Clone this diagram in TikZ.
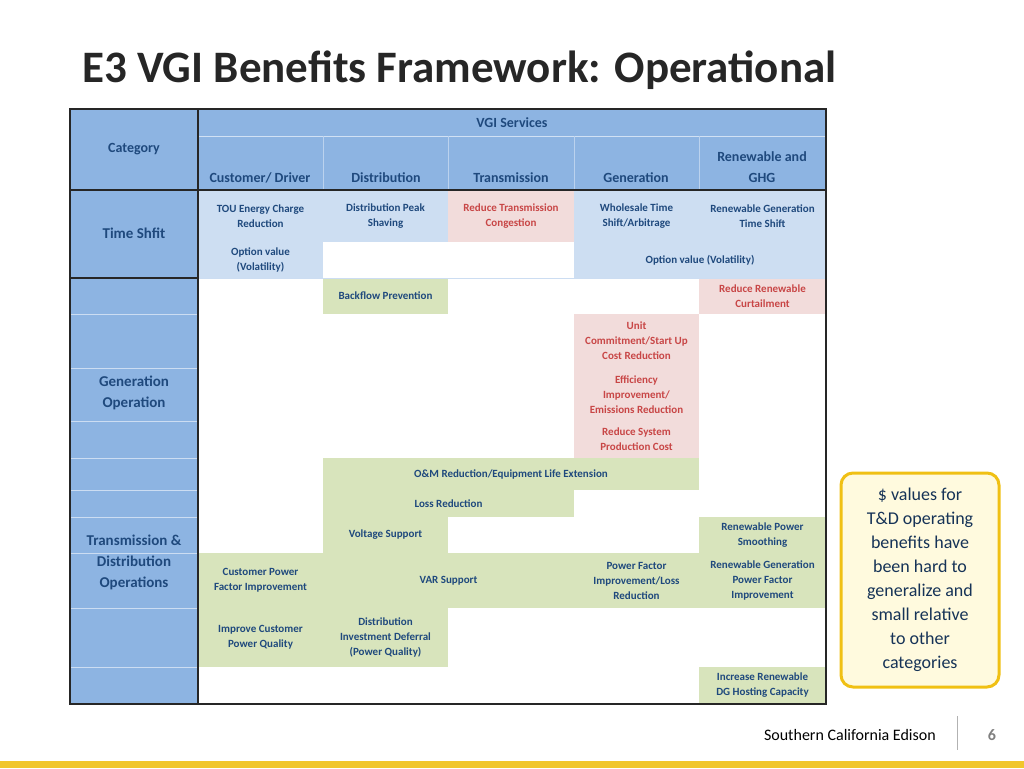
\documentclass[tikz,border=0pt]{standalone}
\usepackage{fontspec}
\setmainfont{Carlito}
\definecolor{hdr}{RGB}{141,180,226}
\definecolor{lb}{RGB}{205,222,242}
\definecolor{pk}{RGB}{242,220,219}
\definecolor{gr}{RGB}{216,228,188}
\definecolor{tx}{RGB}{31,73,125}
\definecolor{rd}{RGB}{200,70,70}
\definecolor{ttl}{RGB}{38,38,38}
\definecolor{yel}{RGB}{240,192,20}
\definecolor{ylt}{RGB}{255,250,222}
\newcommand\mycell[8]{% name x1 y1 x2 y2 fill textcolor text
  \fill[#6] (#2,-#3) rectangle (#4,-#5);
  \node[cell,text=#7] (#1) at ({(#2+#4)/2},{-(#3+#5)/2}) {#8};}
\begin{document}
\begin{tikzpicture}[x=1pt,y=1pt,
  cell/.style={align=center,font=\fontsize{11}{15}\selectfont\bfseries,inner sep=0pt},
  hd/.style={align=center,font=\fontsize{14}{21}\selectfont\bfseries,text=tx,inner sep=0pt},
  cat/.style={align=center,font=\fontsize{15}{21}\selectfont\bfseries,text=tx,inner sep=0pt}]
\useasboundingbox (0,0) rectangle (1024,-768);
\node[anchor=base west,font=\fontsize{45}{50}\selectfont\bfseries,text=ttl,inner sep=0pt] (title) at (82,-82) {E3 VGI Benefits Framework: Operational};
% header
\fill[hdr] (70,-109) rectangle (826,-190);
\fill[hdr] (70,-190) rectangle (198,-704);
\fill[lb] (198,-190) rectangle (826,-278);
\fill[white] (323,-242) rectangle (574,-278);
\draw[white!60!hdr,line width=0.8pt] (198,-136) -- (826,-136);
\foreach \x in {323,448,574,699} \draw[white!40!hdr,line width=0.6pt] (\x,-136) -- (\x,-190);
\node[hd] (vgi) at (512,-123) {VGI Services};
\node[hd] (catg) at (134,-149) {Category};
\node[hd,anchor=base] (h1) at (260,-182) {Customer/ Driver};
\node[hd,anchor=base] (h2) at (386,-182) {Distribution};
\node[hd,anchor=base] (h3) at (511,-182) {Transmission};
\node[hd,anchor=base] (h4) at (636,-182) {Generation};
\node[hd,anchor=base] (h5) at (762,-182) {Renewable and\\GHG};
% cells
\mycell{a1}{323}{190}{448}{242}{lb}{tx}{}
\mycell{c1}{198}{190}{323}{242}{lb}{tx}{TOU Energy Charge\\Reduction}
\mycell{c2}{323}{190}{448}{242}{lb}{tx}{Distribution Peak\\Shaving}
\mycell{c3}{448}{190}{574}{242}{pk}{rd}{Reduce Transmission\\Congestion}
\mycell{c4}{574}{190}{699}{242}{lb}{tx}{Wholesale Time\\Shift/Arbitrage}
\mycell{c5}{699}{190}{826}{242}{lb}{tx}{Renewable Generation\\Time Shift}
\mycell{c6}{198}{242}{323}{278}{lb}{tx}{Option value\\(Volatility)}
\mycell{c7}{574}{242}{826}{278}{lb}{tx}{Option value (Volatility)}
\mycell{g1}{323}{278}{448}{314}{gr}{tx}{Backflow Prevention}
\mycell{p1}{699}{278}{826}{314}{pk}{rd}{Reduce Renewable\\Curtailment}
\mycell{p2}{574}{314}{699}{368}{pk}{rd}{Unit\\Commitment/Start Up\\Cost Reduction}
\mycell{p3}{574}{368}{699}{421}{pk}{rd}{Efficiency\\Improvement/\\Emissions Reduction}
\mycell{p4}{574}{421}{699}{458}{pk}{rd}{Reduce System\\Production Cost}
\mycell{g2}{323}{458}{699}{490}{gr}{tx}{O\&M Reduction/Equipment Life Extension}
\mycell{g3}{323}{490}{574}{517}{gr}{tx}{Loss Reduction}
\mycell{g4}{323}{517}{448}{553}{gr}{tx}{Voltage Support}
\mycell{g5}{699}{517}{826}{553}{gr}{tx}{Renewable Power\\Smoothing}
\mycell{g6}{198}{553}{323}{608}{gr}{tx}{Customer Power\\Factor Improvement}
\mycell{g7}{323}{553}{574}{608}{gr}{tx}{VAR Support}
\mycell{g8}{574}{553}{699}{608}{gr}{tx}{Power Factor\\Improvement/Loss\\Reduction}
\mycell{g9}{699}{553}{826}{608}{gr}{tx}{Renewable Generation\\Power Factor\\Improvement}
\mycell{g10}{198}{608}{323}{667}{gr}{tx}{Improve Customer\\Power Quality}
\mycell{g11}{323}{608}{448}{667}{gr}{tx}{Distribution\\Investment Deferral\\(Power Quality)}
\mycell{g12}{699}{667}{826}{704}{gr}{tx}{Increase Renewable\\DG Hosting Capacity}
% category separators
\foreach \y in {314,368,421,458,490,517,553,608,667}
  \draw[white!55!hdr,line width=0.6pt] (70,-\y) -- (198,-\y);
\draw[white!55!hdr,line width=0.6pt] (198,-278) -- (826,-278);
\node[cat] (ts) at (134,-233) {Time Shfit};
\node[cat] (go) at (134,-393) {Generation\\Operation};
\node[cat] (td) at (134,-562) {Transmission \&\\Distribution\\Operations};
% thick lines
\draw[black!85,line width=1.3pt] (70,-109) rectangle (826,-704);
\draw[black!85,line width=1.3pt] (198,-109) -- (198,-704);
\draw[black!85,line width=1.3pt] (70,-190) -- (826,-190);
\draw[black!85,line width=1.3pt] (70,-278) -- (198,-278);
% callout
\node[draw=yel,fill=ylt,line width=3pt,rounded corners=12pt,minimum width=158pt,minimum height=214pt,align=center,
  font=\fontsize{18}{24}\selectfont,text=tx!70!black] (call) at (920,-580)
  {\$ values for\\T\&D operating\\benefits have\\been hard to\\generalize and\\small relative\\to other\\categories};
% footer
\node[anchor=base east,font=\fontsize{16}{18}\selectfont,text=black,inner sep=0pt] (sce) at (936,-740) {Southern California Edison};
\draw[gray!60,line width=1pt] (957,-716) -- (957,-750);
\node[anchor=base,font=\fontsize{16}{18}\selectfont\bfseries,text=gray,inner sep=0pt] (pg) at (992,-740) {6};
\fill[yel!90!white] (0,-761) rectangle (1024,-768);
\end{tikzpicture}
\end{document}
